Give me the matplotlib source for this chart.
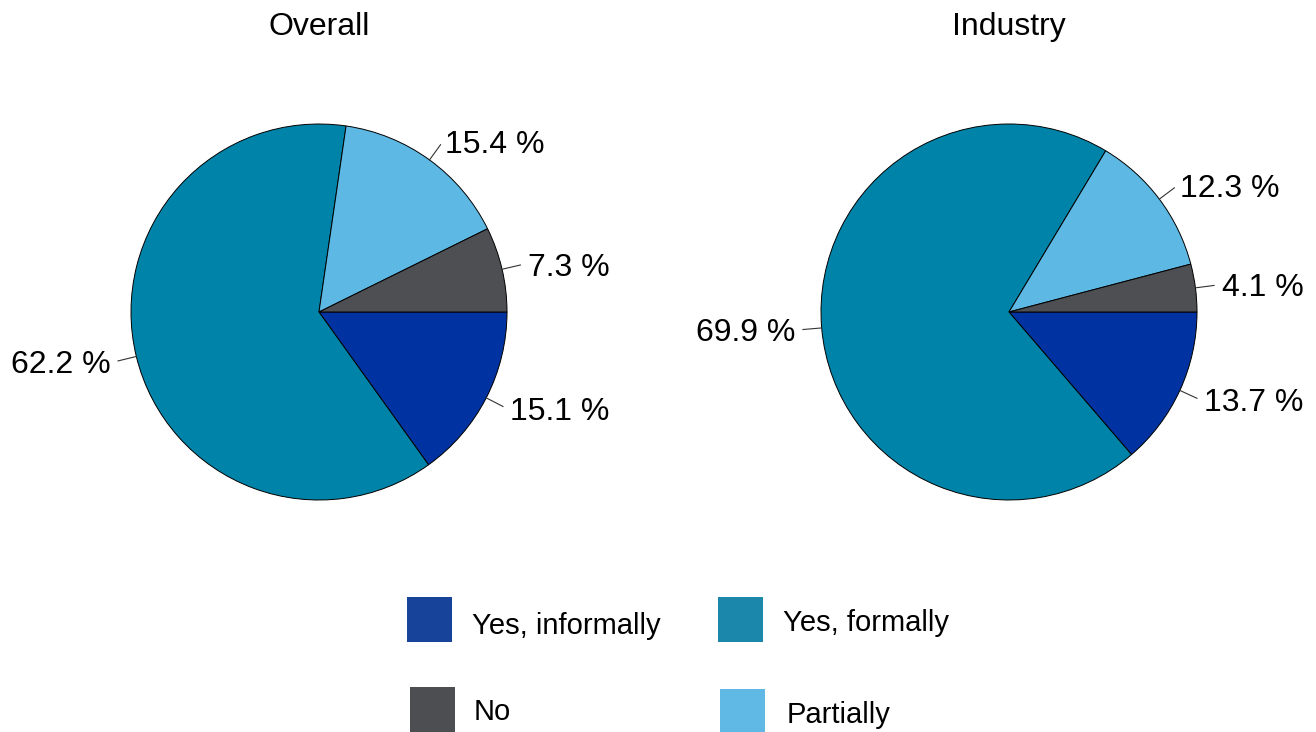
import matplotlib
matplotlib.use("Agg")
import matplotlib.pyplot as plt
import numpy as np
from matplotlib.patches import Rectangle

plt.rcParams['font.family'] = ['Liberation Sans', 'DejaVu Sans']

categories = ["Yes, informally", "Yes, formally", "Partially", "No"]
overall = [15.1, 62.2, 15.4, 7.3]
industry = [13.7, 69.9, 12.3, 4.1]
titles = ["Overall", "Industry"]
pie_colors = ["#0033a1", "#0083a8", "#5db8e3", "#4d4f53"]
legend_colors = ["#17439a", "#1a87ab", "#60b8e5", "#4d4e52"]

W, H = 1316, 732
fig = plt.figure(figsize=(W / 100, H / 100), dpi=100)

R = 188
centers = [(319, 312), (1009, 312)]

for (cx, cy), vals, title in zip(centers, [overall, industry], titles):
    ax = fig.add_axes([(cx - R) / W, 1 - (cy + R) / H, 2 * R / W, 2 * R / H])
    wedges, _ = ax.pie(vals, colors=pie_colors, startangle=0, counterclock=False,
                       wedgeprops=dict(edgecolor="black", linewidth=0.7))
    ax.set_xlim(-1, 1)
    ax.set_ylim(-1, 1)
    ax.set_aspect("equal")
    for w, v in zip(wedges, vals):
        ang = np.deg2rad((w.theta1 + w.theta2) / 2)
        c, s = np.cos(ang), np.sin(ang)
        ax.plot([c, 1.1 * c], [s, 1.1 * s], color="#333333", lw=0.8, clip_on=False)
        ha = "left" if c >= 0 else "right"
        ax.text(1.14 * c, 1.12 * s, f"{v:.1f} %", ha=ha, va="center_baseline",
                fontsize=23, color="black")
    fig.text(cx / W, 1 - 35 / H, title, ha="center", va="baseline", fontsize=23)

# Legend (2x2 layout): row 1 informally, formally; row 2 No, Partially
legend_items = [
    (categories[0], legend_colors[0], 407, 597, 472, 623),
    (categories[1], legend_colors[1], 718, 597, 783, 620),
    (categories[3], legend_colors[3], 410, 687, 474, 709),
    (categories[2], legend_colors[2], 720, 689, 787, 712),
]
for label, col, hx, hy, tx, ty in legend_items:
    fig.patches.append(Rectangle((hx / W, 1 - (hy + 45) / H), 45 / W, 45 / H,
                                 transform=fig.transFigure, facecolor=col,
                                 edgecolor="none"))
    fig.text(tx / W, 1 - ty / H, label, ha="left", va="center_baseline", fontsize=21)

fig.savefig("out.png", dpi=100)
